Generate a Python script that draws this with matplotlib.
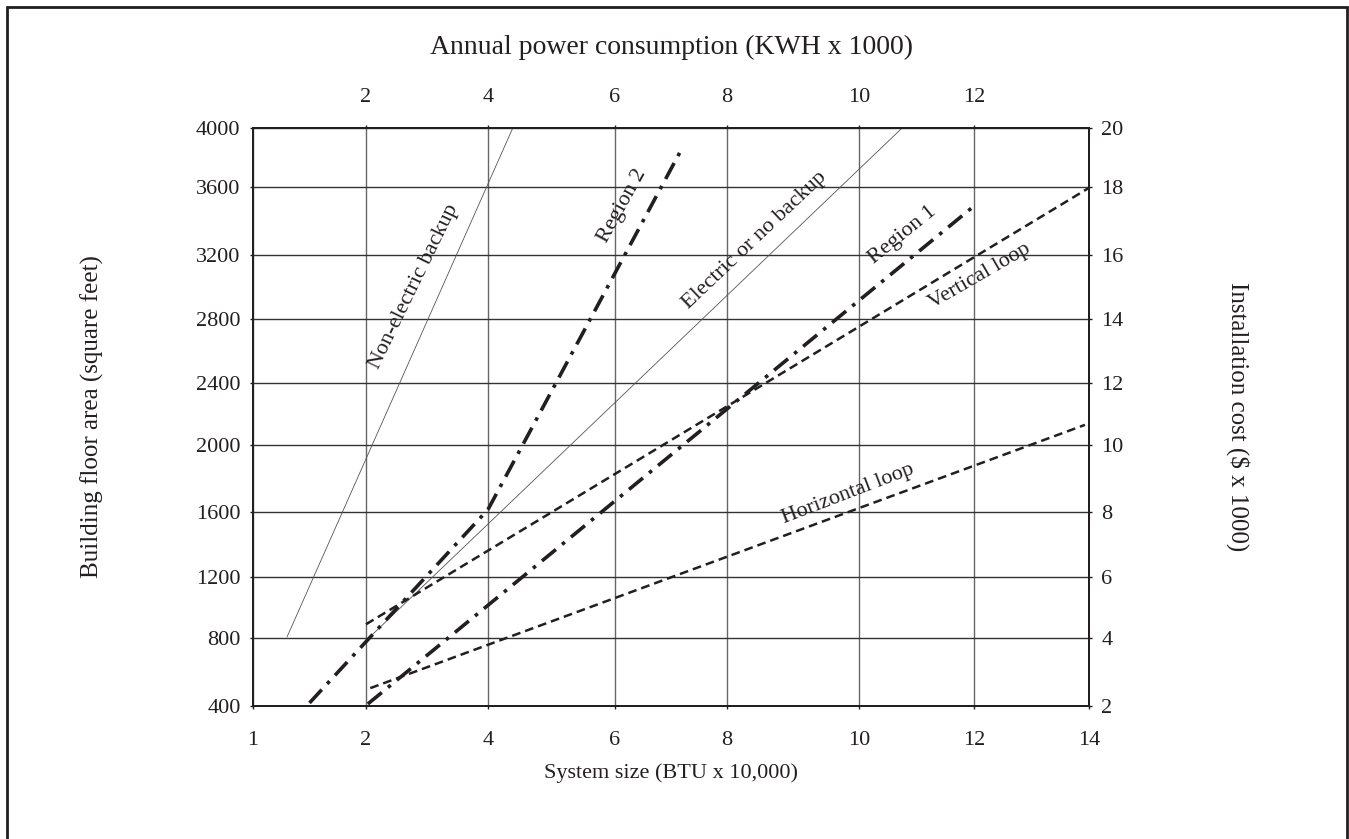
import numpy as np
from matplotlib import pyplot as plt
from matplotlib.patches import Rectangle

plt.rcParams['font.family'] = ['Liberation Serif', 'DejaVu Serif']

# axis ticks
size_ticks = [1, 2, 4, 6, 8, 10, 12, 14]
power_ticks = [2, 4, 6, 8, 10, 12]
area_ticks = [400, 800, 1200, 1600, 2000, 2400, 2800, 3200, 3600, 4000]
cost_ticks = [2, 4, 6, 8, 10, 12, 14, 16, 18, 20]

# curves: system size (BTU x 10,000) vs floor area (sq ft)
non_electric_x = [1.30, 4.39]
non_electric_y = [805, 4000]
region2_x = [1.50, 4.00, 7.21]
region2_y = [418, 1615, 3871]
electric_x = [2.08, 10.75]
electric_y = [813, 4000]
region1_x = [2.03, 12.0]
region1_y = [412, 3488]
vertical_x = [2.0, 14.0]
vertical_y = [890, 3595]
horizontal_x = [2.07, 13.93]
horizontal_y = [505, 2130]

ink = "#231f20"

# the printed grid is not evenly spaced, so both axes get a piecewise scale
x_stops = [0, 113, 235, 362, 474, 606, 721, 836]
y_stops = [0, 68, 129, 194, 261, 323, 387, 451, 519, 578]


def piecewise(src, dst):
    src = np.asarray(src, float)
    dst = np.asarray(dst, float)

    def f(v):
        v = np.asarray(v, float)
        i = np.clip(np.searchsorted(src, v) - 1, 0, len(src) - 2)
        return dst[i] + (v - src[i]) * (dst[i + 1] - dst[i]) / (src[i + 1] - src[i])
    return f


fx, fx_inv = piecewise(size_ticks, x_stops), piecewise(x_stops, size_ticks)
fy, fy_inv = piecewise(area_ticks, y_stops), piecewise(y_stops, area_ticks)

fig = plt.figure(figsize=(13.49, 8.39), dpi=100)
ax = fig.add_axes([253 / 1349, 1 - 706 / 839, 836 / 1349, 578 / 839])
ax.set_xscale('function', functions=(fx, fx_inv))
ax.set_yscale('function', functions=(fy, fy_inv))
ax.set_xlim(1, 14)
ax.set_ylim(400, 4000)
ax.set_xticks(size_ticks)
ax.set_yticks(area_ticks)
ax.minorticks_off()

ax.xaxis.grid(True, color="#666666", linewidth=1.0)
ax.yaxis.grid(True, color="#333333", linewidth=1.0)
ax.set_axisbelow(True)

thin = dict(color="#555555", linewidth=0.6, solid_capstyle='butt')
dashdot = dict(color=ink, linewidth=2.6, linestyle=(0, (5, 2.2, 1, 2.2)))
dashed = dict(color=ink, linewidth=1.8, linestyle=(0, (3.5, 2)))

ax.plot(non_electric_x, non_electric_y, **thin)
ax.plot(electric_x, electric_y, **thin)
ax.plot(region2_x, region2_y, **dashdot)
ax.plot(region1_x, region1_y, **dashdot)
ax.plot(vertical_x, vertical_y, **dashed)
ax.plot(horizontal_x, horizontal_y, **dashed)

labels = [
    ("Non-electric backup", 2.78, 3000, 64),
    ("Region 2", 6.14, 3488, 61),
    ("Electric or no backup", 8.42, 3288, 43.5),
    ("Region 1", 10.75, 3318, 39),
    ("Vertical loop", 12.1, 3070, 30),
    ("Horizontal loop", 9.83, 1710, 21),
]
for s, x, y, rot in labels:
    ax.text(x, y, s, rotation=rot, rotation_mode='anchor', ha='center', va='center',
            fontsize=16, color=ink)

# right axis: installation cost
ax_r = ax.twinx()
ax_r.set_yscale('function', functions=(lambda v: fy(np.asarray(v, float) * 200),
                                       lambda p: fy_inv(p) / 200))
ax_r.set_ylim(2, 20)
ax_r.set_yticks(cost_ticks)
ax_r.minorticks_off()

# top axis: annual power consumption
ax_t = ax.twiny()
ax_t.set_xscale('function', functions=(fx, fx_inv))
ax_t.set_xlim(1, 14)
ax_t.set_xticks(power_ticks)
ax_t.minorticks_off()

for a in (ax, ax_r, ax_t):
    for sp in a.spines.values():
        sp.set_linewidth(1.3)
        sp.set_color(ink)
    a.tick_params(direction='out', length=2, width=1, color=ink, labelsize=16, labelcolor=ink)

ax.tick_params(axis='x', pad=16)
ax.tick_params(axis='y', pad=7)
ax_r.tick_params(axis='y', pad=7)
ax_t.tick_params(axis='x', pad=13)

ax.set_xlabel("System size (BTU x 10,000)", fontsize=16, color=ink, va='center')
ax.xaxis.set_label_coords(0.5, (706 - 773) / 578)
ax.set_ylabel("Building floor area (square feet)", fontsize=18, color=ink, va='center')
ax.yaxis.set_label_coords((92 - 253) / 836, 0.5)
ax_t.set_xlabel("Annual power consumption (KWH x 1000)", fontsize=20, color=ink, va='center')
ax_t.xaxis.set_label_coords(0.5, (706 - 47) / 578)
ax_r.set_ylabel(r"Installation cost (\$ x 1000)", fontsize=18, color=ink, va='center', rotation=-90)
ax_r.yaxis.set_label_coords((1238 - 253) / 836, 0.5)

# outer frame
fig.add_artist(Rectangle((6.7 / 1349, -0.05), 1340.3 / 1349, 1.05 - 6.7 / 839,
                         transform=fig.transFigure, fill=False, linewidth=2, edgecolor=ink,
                         clip_on=False))

fig.savefig("out.png", dpi=100)
